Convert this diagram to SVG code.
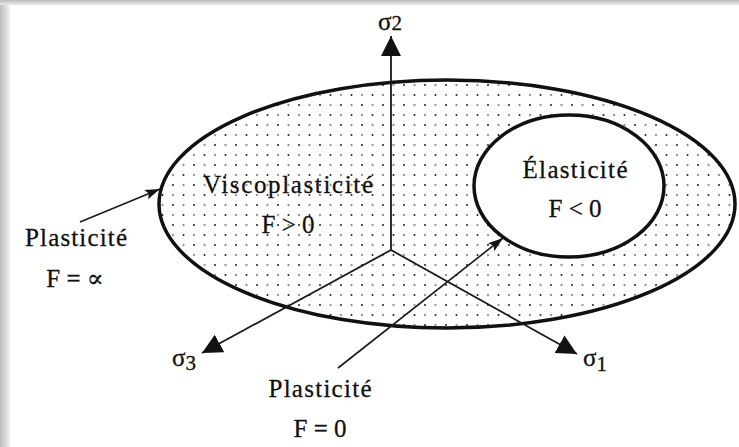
<svg xmlns="http://www.w3.org/2000/svg" width="739" height="447" viewBox="0 0 739 447">
<defs>
<style>
text{font-size:25px;fill:#111;stroke:#111;stroke-width:0.3;}
.ax{stroke:#1a1a1a;stroke-width:1.8;fill:none;}
.ar{stroke:#1a1a1a;stroke-width:1.6;fill:none;}
</style>
<linearGradient id="lg" x1="0" y1="0" x2="1" y2="0">
<stop offset="0" stop-color="#bdbdbd"/><stop offset="1" stop-color="#f2f2f2"/>
</linearGradient>
<linearGradient id="tg" x1="0" y1="0" x2="0" y2="1">
<stop offset="0" stop-color="#bdbdbd"/><stop offset="1" stop-color="#ededed"/>
</linearGradient>
<pattern id="dots" patternUnits="userSpaceOnUse" width="21" height="20">
<rect width="21" height="20" fill="#fff"/>
<circle cx="5" cy="5" r="1" fill="#222"/>
<circle cx="15.5" cy="15" r="1" fill="#222"/>
<circle cx="15.5" cy="5" r="1.2" fill="#9a9a9a"/>
<circle cx="5" cy="15" r="1.2" fill="#9a9a9a"/>
</pattern>
<marker id="big" markerUnits="userSpaceOnUse" markerWidth="22" markerHeight="22" viewBox="0 0 22 22" refX="20" refY="11" orient="auto">
<path d="M0,1 L20,11 L0,21 Z" fill="#111"/>
</marker>
<marker id="small" markerUnits="userSpaceOnUse" markerWidth="16" markerHeight="12" viewBox="0 0 16 12" refX="15" refY="6" orient="auto">
<path d="M0,1 L15,6 L0,11 L3,6 Z" fill="#111"/>
</marker>
</defs>
<rect width="739" height="447" fill="#fff"/>
<rect x="0" y="0" width="10" height="447" fill="url(#lg)"/>
<rect x="0" y="0" width="739" height="5" fill="url(#tg)"/>

<g id="viscoplasticite">
<ellipse cx="447" cy="204" rx="288" ry="124" fill="url(#dots)" stroke="#111" stroke-width="3.5"/>
</g>

<g id="connectors">
<line class="ax" x1="391" y1="250" x2="391" y2="36" marker-end="url(#big)"/>
<line class="ax" x1="391" y1="250" x2="202" y2="353" marker-end="url(#big)"/>
<line class="ax" x1="391" y1="250" x2="577" y2="354" marker-end="url(#big)"/>
<line class="ar" x1="80" y1="222" x2="160" y2="189" marker-end="url(#small)"/>
<line class="ar" x1="338" y1="368" x2="503" y2="238" marker-end="url(#small)"/>
</g>

<g font-family="'Liberation Serif', 'Times New Roman', Tinos, 'Nimbus Roman', 'DejaVu Serif', 'Noto Serif', FreeSerif, serif">
<g id="elasticite">
<ellipse cx="569" cy="186" rx="95" ry="71" fill="#fff" stroke="#111" stroke-width="3.5"/>
<text x="575" y="178" text-anchor="middle" textLength="105" lengthAdjust="spacing">Élasticité</text>
<text x="575" y="217" text-anchor="middle">F &lt; 0</text>
</g>

<g id="viscoplasticite-label">
<text x="288" y="193" text-anchor="middle" textLength="170" lengthAdjust="spacing">Viscoplasticité</text>
<text x="288" y="233" text-anchor="middle">F &gt; 0</text>
</g>

<g id="plasticite-inf">
<text x="76" y="246" text-anchor="middle" textLength="102" lengthAdjust="spacing">Plasticité</text>
<text x="75" y="287" text-anchor="middle">F = ∝</text>
</g>

<g id="plasticite-zero">
<text x="320" y="397" text-anchor="middle" textLength="103" lengthAdjust="spacing">Plasticité</text>
<text x="320" y="437" text-anchor="middle">F = 0</text>
</g>

<g id="sigma2"><text x="390" y="30" text-anchor="middle">σ<tspan font-size="21">2</tspan></text></g>
<g id="sigma3"><text x="172" y="366">σ<tspan dy="4" font-size="21">3</tspan></text></g>
<g id="sigma1"><text x="583" y="366">σ<tspan dy="5" font-size="21">1</tspan></text></g>
</g>
</svg>
